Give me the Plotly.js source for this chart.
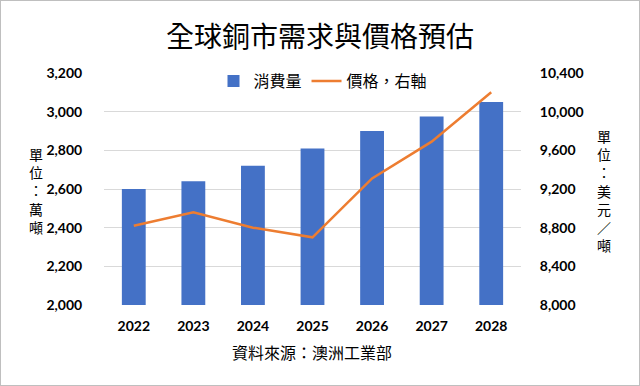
<!DOCTYPE html>
<html><head><meta charset="utf-8">
<script src="https://cdn.plot.ly/plotly-3.0.1.min.js"></script>
<style>html,body{margin:0;padding:0;background:#fff}#wrap{width:640px;height:386px;box-sizing:border-box;border:1px solid #bfbfbf;overflow:hidden}</style>
</head><body><div id="wrap"><div id="chart"></div></div>
<script>
const years = ['2022','2023','2024','2025','2026','2027','2028'];
const consumption = [2600, 2640, 2720, 2810, 2900, 2975, 3050];
const price = [8820, 8960, 8800, 8700, 9310, 9690, 10200];
const leftTicks = [2000, 2200, 2400, 2600, 2800, 3000, 3200];
const rightTicks = [8000, 8400, 8800, 9200, 9600, 10000, 10400];
const leftTitle = ['單','位','：','萬','噸'];
const rightTitle = ['單','位','：','美','元','／','噸'];

const cjk = '"Noto Sans CJK TC", "Noto Sans", sans-serif';
const tickFont = {family: 'Lato, "Open Sans", sans-serif', size: 14, color: '#000', weight: 'bold'};

const W = 638, H = 384;
const L = 103, R = 520, T = 72, B = 304;
const px = v => (v - L) / (R - L);
const py = v => (B - v) / (B - T);

const data = [
  {type: 'bar', x: years, y: consumption, name: '消費量', width: 0.4,
   marker: {color: '#4471C6', line: {width: 0}}, yaxis: 'y'},
  {type: 'scatter', mode: 'lines', x: years, y: price, name: '價格，右軸',
   line: {color: '#ED7D31', width: 2.5}, yaxis: 'y2'}
];

const annotations = [
  {text: leftTitle.join('<br>'), xref: 'paper', yref: 'paper', x: px(35), y: py(189),
   xanchor: 'center', yanchor: 'middle', showarrow: false, align: 'center',
   font: {family: cjk, size: 14, color: '#000'}},
  {text: rightTitle.join('<br>'), xref: 'paper', yref: 'paper', x: px(603), y: py(189),
   xanchor: 'center', yanchor: 'middle', showarrow: false, align: 'center',
   font: {family: cjk, size: 14, color: '#000'}},
  {text: '資料來源：澳洲工業部', xref: 'paper', yref: 'paper', x: px(311), y: py(351),
   xanchor: 'center', yanchor: 'middle', showarrow: false, font: {family: cjk, size: 16, color: '#000'}}
];

const layout = {
  width: W, height: H,
  margin: {l: L, r: W - R, t: T, b: H - B, pad: 0},
  paper_bgcolor: '#fff', plot_bgcolor: '#fff',
  showlegend: true,
  title: {text: '全球銅市需求與價格預估', font: {family: cjk, size: 28, color: '#000', weight: 'normal'},
          x: 0.5, xanchor: 'center', y: 1 - 36 / H, yanchor: 'middle', yref: 'container'},
  legend: {orientation: 'h', x: px(322), xanchor: 'center', y: py(80), yanchor: 'middle',
           font: {family: cjk, size: 16, color: '#000'}, bgcolor: 'rgba(255,255,255,0)', traceorder: 'normal'},
  xaxis: {type: 'category', tickfont: tickFont, showgrid: false, showline: false, zeroline: false,
          ticks: 'outside', ticklen: 8, tickcolor: 'rgba(0,0,0,0)'},
  yaxis: {range: [2000, 3200], tickvals: leftTicks, tickformat: ',d', tickfont: tickFont,
          showgrid: true, gridcolor: '#d9d9d9', gridwidth: 1, zeroline: false, showline: false,
          ticks: 'outside', ticklen: 18, tickcolor: 'rgba(0,0,0,0)'},
  yaxis2: {range: [8000, 10400], tickvals: rightTicks, tickformat: ',d', tickfont: tickFont,
           overlaying: 'y', side: 'right', showgrid: false, zeroline: false, showline: false,
           ticks: 'outside', ticklen: 15, tickcolor: 'rgba(0,0,0,0)'},
  annotations: annotations
};
Plotly.newPlot('chart', data, layout, {displayModeBar: false, staticPlot: true});
</script></body></html>
